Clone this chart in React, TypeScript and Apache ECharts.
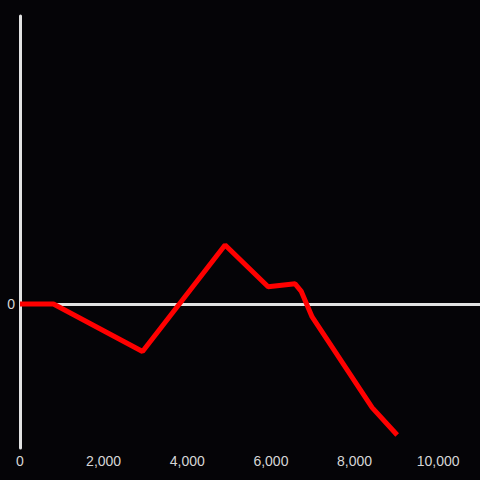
import React, { useEffect, useRef } from "react";
import * as echarts from "echarts";

const xValues = [0, 800, 2930, 4904, 5933, 6579, 6722, 6986, 8421, 9019];
const yValues = [0, 0, -33, 41, 12, 14, 9, -9, -72, -91];
const xTicks = [0, 2000, 4000, 6000, 8000, 10000];

export default function App() {
  const ref = useRef<HTMLDivElement>(null);
  useEffect(() => {
    if (!ref.current) return;
    const chart = echarts.init(ref.current, undefined, { renderer: "svg" });
    const font = "Liberation Sans, Arial, sans-serif";
    chart.setOption({
      animation: false,
      backgroundColor: "#050407",
      grid: { left: 20, right: 0, top: 16, bottom: 32, containLabel: false },
      xAxis: {
        type: "value",
        min: 0,
        max: 11000,
        interval: 2000,
        axisLine: { show: false, onZero: false },
        axisTick: { show: false },
        splitLine: { show: false },
        axisLabel: {
          color: "#d6d6d6",
          fontSize: 14,
          fontFamily: font,
          margin: 6,
          showMaxLabel: false,
          formatter: (v: number) =>
            xTicks.includes(v) ? v.toLocaleString("en-US") : "",
        },
      },
      yAxis: {
        type: "value",
        min: -100,
        max: 200,
        interval: 100,
        axisLine: { show: true, onZero: false, lineStyle: { color: "#e2e2e2", width: 3 } },
        axisTick: { show: false },
        splitLine: { show: false },
        axisLabel: {
          color: "#d6d6d6",
          fontSize: 14,
          fontFamily: font,
          margin: 5,
          formatter: (v: number) => (v === 0 ? "0" : ""),
        },
      },
      series: [
        {
          type: "line",
          data: xValues.map((x, i) => [x, yValues[i]]),
          showSymbol: false,
          symbol: "none",
          lineStyle: { color: "#ff0000", width: 5 },
          z: 3,
          markLine: {
            silent: true,
            symbol: "none",
            z: 1,
            label: { show: false },
            lineStyle: { color: "#e2e2e2", width: 3, type: "solid" },
            data: [{ yAxis: 0 }],
          },
        },
      ],
    });
    return () => chart.dispose();
  }, []);
  return <div ref={ref} style={{ width: 480, height: 480, position: "fixed", left: 0, top: 0 }} />;
}
